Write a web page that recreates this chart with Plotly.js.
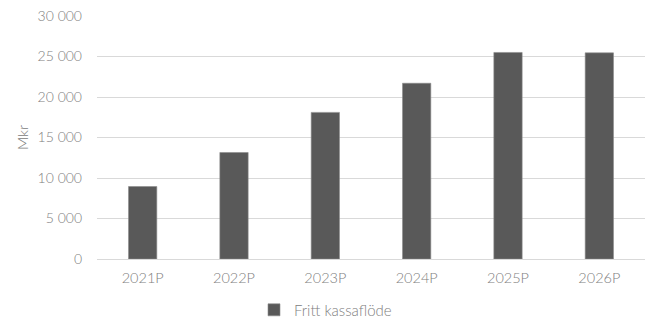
<!DOCTYPE html>
<html>
<head>
<meta charset="utf-8">
<script src="https://cdn.plot.ly/plotly-3.0.1.min.js"></script>
<style>html,body{margin:0;padding:0;background:#fff}#chart{width:651px;height:322px}</style>
</head>
<body>
<div id="chart"></div>
<script>
const categories = ["2021P", "2022P", "2023P", "2024P", "2025P", "2026P"];
const values = [8950, 13150, 18100, 21700, 25500, 25450];
const seriesName = "Fritt kassaflöde";
const yTickVals = [0, 5000, 10000, 15000, 20000, 25000, 30000];
const yTickText = ["0", "5 000", "10 000", "15 000", "20 000", "25 000", "30 000"];

const textColor = "#808080";
const fontFam = "Lato, 'DejaVu Sans', sans-serif";
const fs = 14.5;
const trace = {
  type: "bar",
  x: categories,
  y: values,
  name: seriesName,
  marker: { color: "#595959", line: { color: "#8c8c8c", width: 0.6 } },
  showlegend: true,
  hoverinfo: "x+y"
};
const layout = {
  width: 651, height: 322,
  margin: { l: 97, r: 6, t: 16, b: 63, autoexpand: false },
  paper_bgcolor: "#fff", plot_bgcolor: "#fff",
  font: { family: fontFam, size: fs, color: textColor, weight: 300 },
  bargap: 0.69,
  showlegend: true,
  legend: { orientation: "h", x: 0.5, xanchor: "center", xref: "container",
            y: 0.037, yanchor: "middle", yref: "container",
            font: { family: fontFam, size: 15, color: textColor, weight: 300 }, itemwidth: 30 },
  xaxis: { type: "category", showgrid: false, zeroline: false, showline: false,
           ticks: "", ticklabelstandoff: 8, automargin: false,
           tickfont: { family: fontFam, size: fs, color: textColor, weight: 300 } },
  yaxis: { range: [0, 30000], tickvals: yTickVals, ticktext: yTickText, automargin: false,
           showgrid: true, gridcolor: "#d9d9d9", gridwidth: 1, zeroline: true,
           zerolinecolor: "#d9d9d9", zerolinewidth: 1, showline: false,
           ticks: "", ticklabelstandoff: 14,
           tickfont: { family: fontFam, size: 14, color: textColor, weight: 300 },
           title: { text: "Mkr", standoff: 5, font: { family: fontFam, size: fs, color: textColor, weight: 300 } } }
};
Plotly.newPlot("chart", [trace], layout, { displayModeBar: false, staticPlot: true });
</script>
</body>
</html>
